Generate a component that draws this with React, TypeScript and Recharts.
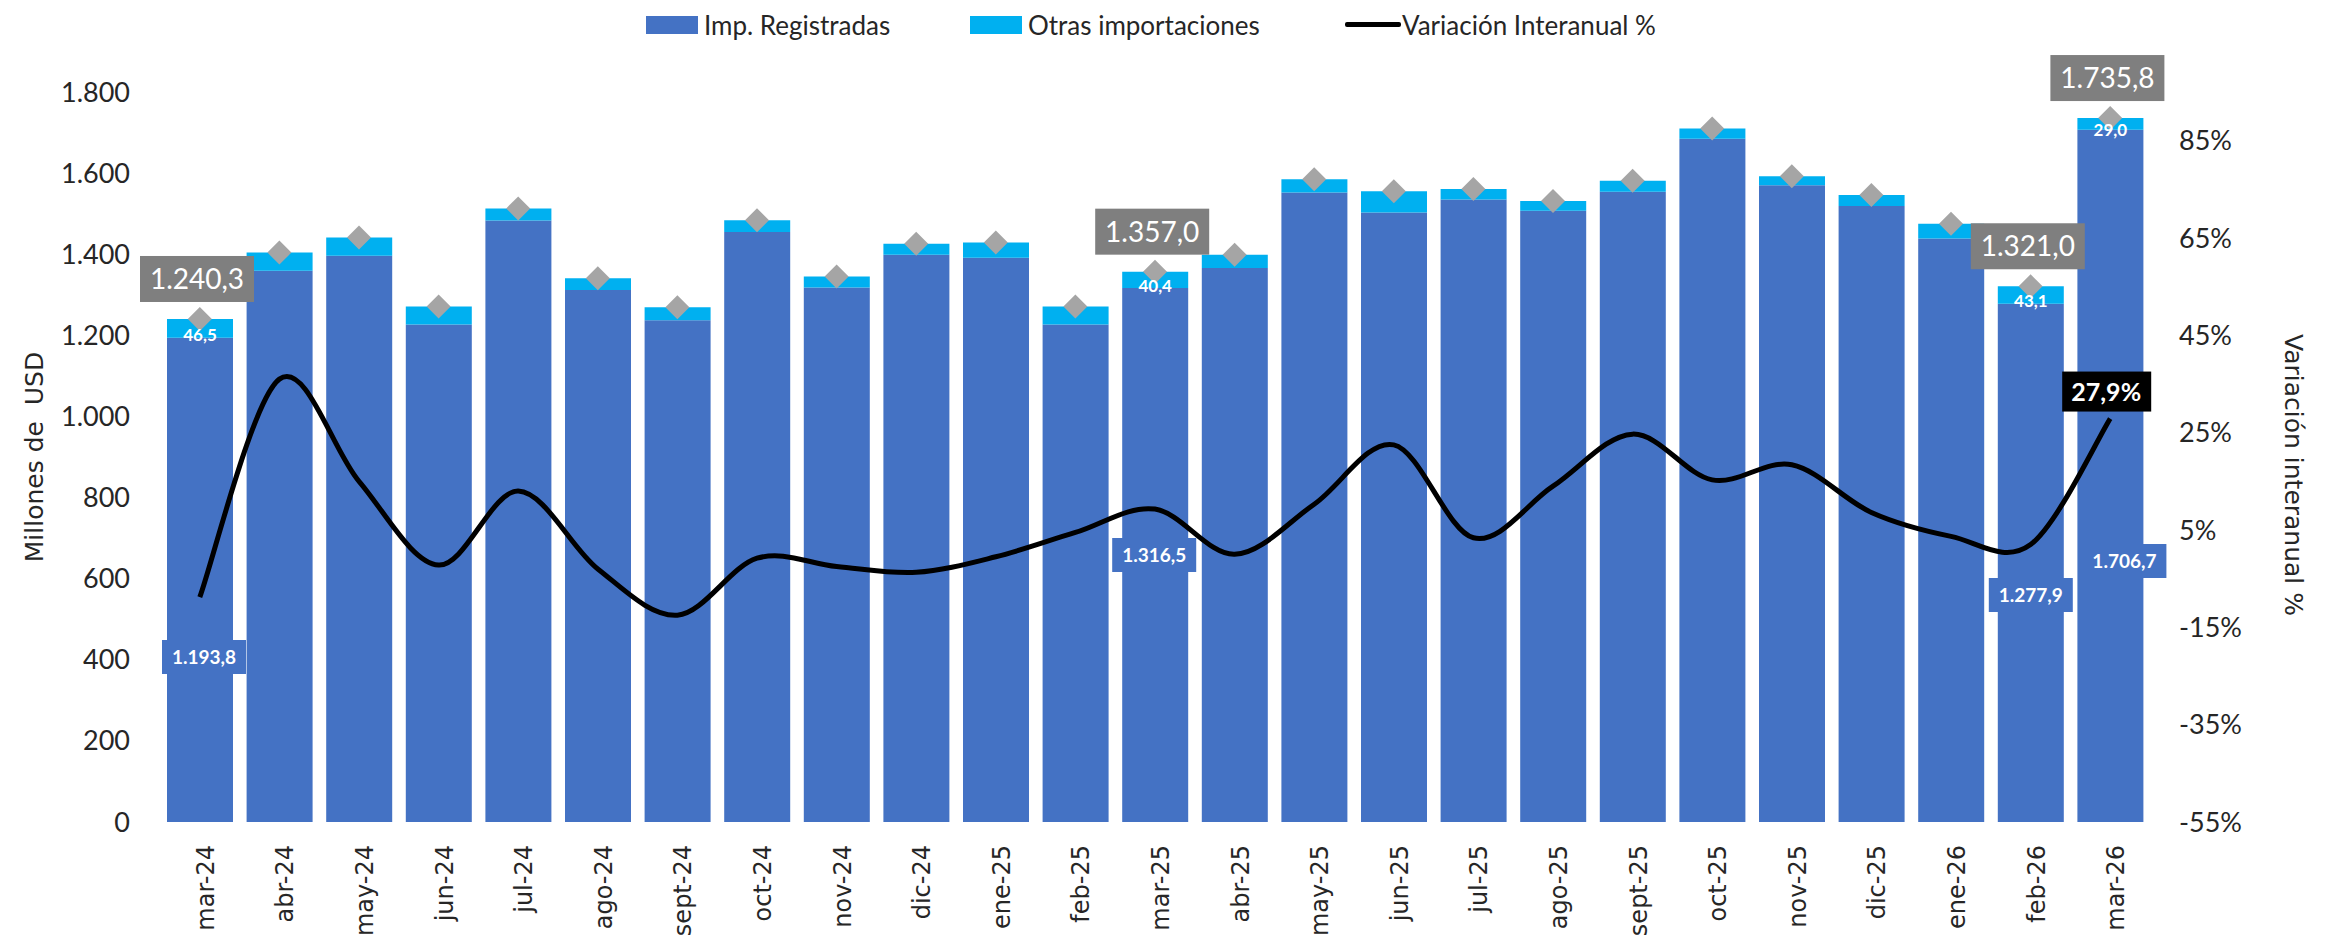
import { ComposedChart, Bar, Line, XAxis, YAxis, LabelList } from 'recharts'

const meses = [
  'mar-24', 'abr-24', 'may-24', 'jun-24', 'jul-24', 'ago-24', 'sept-24', 'oct-24', 'nov-24',
  'dic-24', 'ene-25', 'feb-25', 'mar-25', 'abr-25', 'may-25', 'jun-25', 'jul-25', 'ago-25',
  'sept-25', 'oct-25', 'nov-25', 'dic-25', 'ene-26', 'feb-26', 'mar-26',
]
// millones de USD
const impRegistradas = [
  1193.8, 1359, 1396, 1227, 1483, 1312, 1237, 1455, 1318, 1399, 1391, 1227, 1316.54,
  1366, 1552, 1503, 1535, 1507, 1554, 1685, 1570, 1519, 1439, 1277.9, 1706.74,
]
const otrasImportaciones = [
  46.5, 45, 45, 44, 30, 29, 32, 29, 27, 27, 38, 44, 40.44,
  33, 33, 52, 26, 24, 27, 25, 22, 27, 36, 43.1, 29.04,
]
// %
const variacionInteranual = [
  -8.8, 36, 15, -2.2, 13, -3, -12.5, -0.8, -2.5, -3.7, -0.5, 4.5, 9.3,
  0, 10.3, 22.5, 3.4, 14, 24.7, 15.3, 18.4, 8.6, 3.7, 2, 27.9,
]
const ticksMillones = [0, 200, 400, 600, 800, 1000, 1200, 1400, 1600, 1800]
const ticksVariacion = [-55, -35, -15, 5, 25, 45, 65, 85]
const conEtiqueta = [0, 12, 23, 24]

// ubicación manual de las etiquetas de Imp. Registradas (px desde la base de la barra)
const posEtiquetaReg: Record<number, { dx: number; alto: number }> = {
  0: { dx: 4, alto: 165 },
  12: { dx: -1, alto: 267 },
  23: { dx: 0, alto: 227 },
  24: { dx: 14, alto: 261 },
}

const AZUL = '#4472C4'
const CELESTE = '#00B0F0'
const GRIS = '#A5A5A5'
const TEXTO = '#262626'
const GILL = 'Lato, "Open Sans", sans-serif'
const GOTHIC = '"DejaVu Sans", sans-serif'

const datos = meses.map((mes, i) => ({
  mes,
  reg: impRegistradas[i],
  otras: otrasImportaciones[i],
  total: impRegistradas[i] + otrasImportaciones[i],
  variacion: variacionInteranual[i],
}))

function fmt(v: number, dec = 1) {
  const [ent, frac] = v.toFixed(dec).split('.')
  const miles = ent.replace(/\B(?=(\d{3})+(?!\d))/g, '.')
  return frac ? `${miles},${frac}` : miles
}

// suavizado tipo Excel (Catmull-Rom)
function curvaExcel(context: any) {
  let pts: [number, number][] = []
  return {
    areaStart() {},
    areaEnd() {},
    lineStart() {
      pts = []
    },
    point(x: number, y: number) {
      pts.push([+x, +y])
    },
    lineEnd() {
      const n = pts.length
      if (!n) return
      context.moveTo(pts[0][0], pts[0][1])
      for (let i = 0; i < n - 1; i++) {
        const p0 = pts[i - 1] || pts[i]
        const p1 = pts[i]
        const p2 = pts[i + 1]
        const p3 = pts[i + 2] || p2
        context.bezierCurveTo(
          p1[0] + (p2[0] - p0[0]) / 6, p1[1] + (p2[1] - p0[1]) / 6,
          p2[0] - (p3[0] - p1[0]) / 6, p2[1] - (p3[1] - p1[1]) / 6,
          p2[0], p2[1],
        )
      }
    },
  }
}

const caja = (p: any) => {
  const vb = p.viewBox ?? p
  return { x: +vb.x, y: +vb.y, w: +(vb.width ?? 0), h: +(vb.height ?? 0), i: p.index }
}

const EtiquetaTotal = (p: any) => {
  const { x, y, w, i } = caja(p)
  if (!conEtiqueta.includes(i)) return null
  const cx = x + w / 2 - 3
  const base = y - 17
  return (
    <g>
      <rect x={cx - 57} y={base - 46} width={114} height={46} fill="#7F7F7F" />
      <text x={cx} y={base - 23} dy="0.36em" textAnchor="middle" fill="#fff" fontSize={28} fontFamily={GILL}>
        {fmt(datos[i].total)}
      </text>
    </g>
  )
}

const EtiquetaOtras = (p: any) => {
  const { x, y, w, h, i } = caja(p)
  if (!conEtiqueta.includes(i)) return null
  return (
    <text x={x + w / 2} y={y + h / 2 + 6} dy="0.36em" textAnchor="middle" fill="#fff" fontSize={17} fontWeight={700} fontFamily={GILL}>
      {fmt(otrasImportaciones[i])}
    </text>
  )
}

const EtiquetaReg = (p: any) => {
  const { x, y, w, h, i } = caja(p)
  const pos = posEtiquetaReg[i]
  if (!pos) return null
  const cx = x + w / 2 + pos.dx
  const cy = y + h - pos.alto
  return (
    <g>
      <rect x={cx - 42} y={cy - 17} width={84} height={34} fill={AZUL} />
      <text x={cx} y={cy} dy="0.36em" textAnchor="middle" fill="#fff" fontSize={19} fontWeight={700} fontFamily={GILL}>
        {fmt(impRegistradas[i])}
      </text>
    </g>
  )
}

const EtiquetaVar = (p: any) => {
  const { x, y, i } = caja(p)
  if (i !== meses.length - 1) return null
  const cx = x - 4
  const cy = y - 27
  return (
    <g>
      <rect x={cx - 44} y={cy - 20} width={89} height={40} fill="#000" />
      <text x={cx} y={cy} dy="0.36em" textAnchor="middle" fill="#fff" fontSize={25} fontWeight={700} fontFamily={GILL}>
        {fmt(variacionInteranual[i])}%
      </text>
    </g>
  )
}

const Rombo = (p: any) => {
  const { cx, cy } = p
  if (cx == null || cy == null) return null
  return <polygon points={`${cx},${cy - 12} ${cx + 12},${cy} ${cx},${cy + 12} ${cx - 12},${cy}`} fill={GRIS} />
}

const TickMes = ({ x, y, payload }: any) => (
  <text x={x} y={y} dy={14} transform={`rotate(-90 ${x} ${y})`} textAnchor="end" fill={TEXTO} fontSize={24} fontFamily={GOTHIC}>
    {payload.value}
  </text>
)

const tituloIzq = (p: any) => {
  const vb = p.viewBox
  const x = vb.x - 17
  const y = vb.y + vb.height / 2
  return (
    <text x={x} y={y} transform={`rotate(-90 ${x} ${y})`} textAnchor="middle" fill={TEXTO} fontSize={25} fontFamily={GOTHIC} style={{ whiteSpace: 'pre' }}>
      {'Millones de  USD'}
    </text>
  )
}

const tituloDer = (p: any) => {
  const vb = p.viewBox
  const x = vb.x + 135
  const y = vb.y + vb.height / 2 + 18
  return (
    <text x={x} y={y} transform={`rotate(90 ${x} ${y})`} textAnchor="middle" fill={TEXTO} fontSize={25} fontFamily={GOTHIC}>
      Variación interanual %
    </text>
  )
}

function Leyenda() {
  const txt = { position: 'absolute' as const, top: 8, fontSize: 26, fontFamily: GILL, color: TEXTO, lineHeight: '34px', whiteSpace: 'nowrap' as const }
  return (
    <div style={{ position: 'absolute', left: 0, top: 0, width: 2331, height: 50 }}>
      <div style={{ position: 'absolute', left: 646, top: 16, width: 52, height: 18, background: AZUL }} />
      <div style={{ ...txt, left: 704 }}>Imp. Registradas</div>
      <div style={{ position: 'absolute', left: 970, top: 16, width: 52, height: 18, background: CELESTE }} />
      <div style={{ ...txt, left: 1028 }}>Otras importaciones</div>
      <div style={{ position: 'absolute', left: 1345, top: 22, width: 56, height: 5, background: '#000', borderRadius: 2 }} />
      <div style={{ ...txt, left: 1402 }}>Variación Interanual %</div>
    </div>
  )
}

export default function App() {
  return (
    <div style={{ position: 'absolute', left: 0, top: 0, width: 2331, height: 945, background: '#fff' }}>
      <ComposedChart width={2331} height={945} data={datos} margin={{ top: 92, right: 61, left: 60, bottom: 23 }}>
        <XAxis dataKey="mes" interval={0} axisLine={false} tickLine={false} tickSize={0} tickMargin={23} height={100} tick={<TickMes />} />
        <YAxis
          yAxisId="izq"
          domain={[0, 1800]}
          ticks={ticksMillones}
          width={100}
          axisLine={false}
          tickLine={false}
          tickSize={0}
          tickMargin={30}
          tickFormatter={(v: number) => fmt(v, 0)}
          tick={{ fill: TEXTO, fontSize: 27, fontFamily: GILL }}
          label={tituloIzq}
        />
        <YAxis
          yAxisId="der"
          orientation="right"
          domain={[-55, 95]}
          ticks={ticksVariacion}
          width={120}
          axisLine={false}
          tickLine={false}
          tickSize={0}
          tickMargin={29}
          tickFormatter={(v: number) => `${v}%`}
          tick={{ fill: TEXTO, fontSize: 27, fontFamily: GILL, textAnchor: 'start' }}
          label={tituloDer}
        />
        <Bar yAxisId="izq" dataKey="reg" stackId="a" fill={AZUL} barSize={66} isAnimationActive={false}>
          <LabelList dataKey="reg" content={EtiquetaReg} />
        </Bar>
        <Bar yAxisId="izq" dataKey="otras" stackId="a" fill={CELESTE} barSize={66} isAnimationActive={false}>
          <LabelList dataKey="otras" content={EtiquetaOtras} />
          <LabelList dataKey="total" content={EtiquetaTotal} />
        </Bar>
        <Line yAxisId="izq" dataKey="total" stroke="none" dot={<Rombo />} activeDot={false} legendType="none" isAnimationActive={false} />
        <Line
          yAxisId="der"
          dataKey="variacion"
          type={curvaExcel as any}
          stroke="#000"
          strokeWidth={5}
          dot={false}
          activeDot={false}
          isAnimationActive={false}
        >
          <LabelList dataKey="variacion" content={EtiquetaVar} />
        </Line>
      </ComposedChart>
      <Leyenda />
    </div>
  )
}
